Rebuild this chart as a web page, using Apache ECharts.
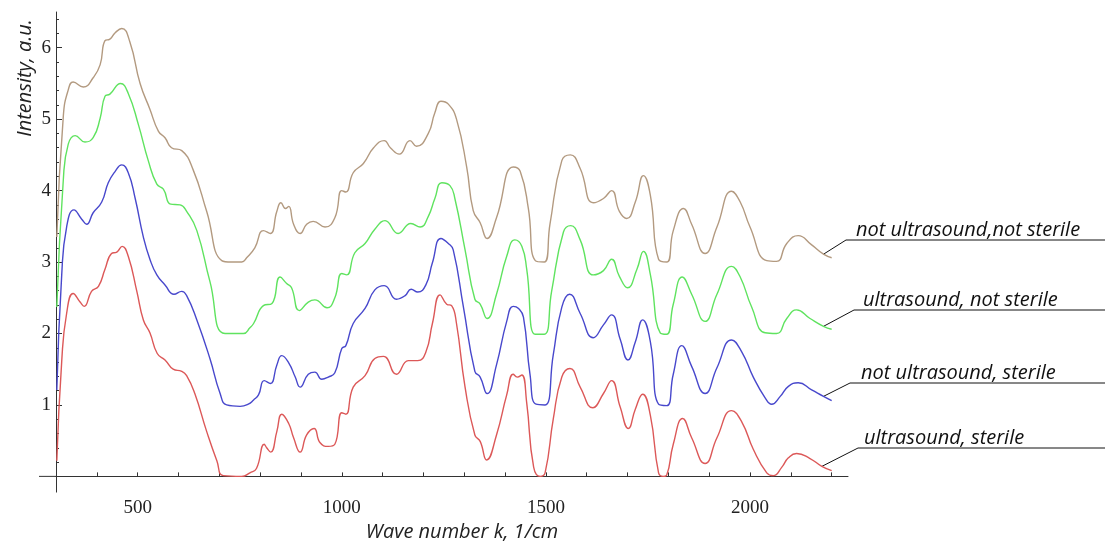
<!DOCTYPE html>
<html>
<head>
<meta charset="utf-8">
<script src="https://cdn.jsdelivr.net/npm/echarts@6/dist/echarts.min.js"></script>
<style>
  html, body { margin: 0; padding: 0; background: #fff; }
  #main { width: 1114px; height: 547px; }
</style>
</head>
<body>
<div id="main"></div>
<script>
// spectra, x = wave number (1/cm), y = intensity (a.u.)
var names = ['not ultrasound,not sterile', 'ultrasound, not sterile', 'not ultrasound, sterile', 'ultrasound, sterile'];
var colors = ['#b39a80', '#5fe35f', '#4848cc', '#dc5858'];

var nusnsX = [302,318,330,342,367,391,408,420,432,445,461,481,506,530,551,567,583,608,636,669,706,730,755,767,787,808,825,841,851,862,870,882,898,914,930,959,983,1000,1010,1028,1053,1078,1104,1119,1141,1167,1183,1212,1228,1243,1261,1281,1306,1322,1339,1356,1379,1420,1437,1457,1474,1496,1510,1539,1560,1584,1616,1641,1661,1680,1698,1719,1739,1756,1776,1796,1812,1837,1857,1890,1919,1955,1976,2000,2041,2065,2090,2118,2151,2180,2200];
var nusnsY = [3.35,5.05,5.41,5.52,5.45,5.58,5.76,6.10,6.12,6.21,6.27,6.08,5.50,5.14,4.83,4.74,4.60,4.56,4.29,3.71,3.02,3.00,3.00,3.06,3.20,3.44,3.40,3.71,3.83,3.75,3.78,3.53,3.40,3.53,3.57,3.49,3.62,4.00,3.98,4.25,4.38,4.60,4.70,4.60,4.51,4.70,4.62,4.80,5.09,5.25,5.21,5.00,4.33,3.72,3.55,3.33,3.62,4.33,4.27,3.75,3.02,3.00,3.53,4.42,4.50,4.31,3.83,3.89,4.00,3.71,3.61,3.84,4.21,3.93,3.04,3.00,3.44,3.75,3.53,3.12,3.49,3.99,3.84,3.49,3.02,3.01,3.26,3.37,3.24,3.11,3.06];

var usnsX = [302,318,330,347,371,391,408,420,432,458,477,502,526,547,563,581,604,620,645,677,714,759,775,784,808,829,849,865,877,896,918,934,964,983,1000,1012,1032,1057,1081,1106,1138,1169,1192,1212,1228,1245,1265,1277,1302,1326,1339,1356,1379,1404,1424,1441,1453,1474,1496,1514,1543,1561,1584,1616,1641,1661,1680,1700,1723,1739,1756,1780,1796,1812,1834,1857,1890,1919,1955,1976,2004,2037,2065,2090,2114,2147,2180,2200];
var usnsY = [2.37,4.16,4.65,4.77,4.68,4.74,5.01,5.32,5.35,5.50,5.36,4.92,4.42,4.09,4.02,3.81,3.80,3.71,3.44,2.73,2.00,2.00,2.08,2.14,2.39,2.42,2.79,2.70,2.64,2.32,2.44,2.47,2.36,2.50,2.84,2.82,3.13,3.26,3.46,3.58,3.40,3.54,3.49,3.64,3.89,4.11,4.07,3.89,3.17,2.48,2.41,2.21,2.55,3.08,3.31,3.22,2.90,1.99,1.99,2.59,3.42,3.51,3.31,2.82,2.88,3.04,2.80,2.64,2.90,3.15,2.82,2.01,1.99,2.41,2.79,2.55,2.17,2.55,2.94,2.79,2.37,2.01,2.00,2.21,2.33,2.21,2.10,2.06];

var nussX = [302,314,326,344,363,375,391,412,428,445,461,477,494,514,530,547,567,589,608,620,645,677,702,718,751,771,784,796,810,825,841,853,870,886,898,918,934,951,967,983,1000,1010,1028,1057,1081,1104,1134,1155,1170,1186,1206,1222,1243,1261,1273,1298,1326,1339,1356,1379,1404,1420,1433,1445,1461,1476,1498,1518,1539,1558,1584,1616,1641,1661,1682,1701,1719,1737,1756,1776,1796,1812,1833,1857,1890,1919,1955,1980,2008,2037,2053,2074,2094,2118,2151,2180,2200];
var nussY = [1.21,2.82,3.49,3.73,3.60,3.53,3.69,3.84,4.11,4.27,4.36,4.25,3.89,3.35,3.04,2.82,2.68,2.55,2.59,2.53,2.19,1.65,1.16,1.00,0.98,1.01,1.07,1.14,1.34,1.30,1.56,1.69,1.59,1.39,1.25,1.43,1.46,1.36,1.39,1.45,1.79,1.83,2.14,2.35,2.61,2.67,2.48,2.53,2.62,2.58,2.68,2.99,3.33,3.26,3.17,2.37,1.47,1.39,1.16,1.56,2.17,2.38,2.35,2.23,1.43,1.01,1.00,1.70,2.37,2.55,2.28,1.94,2.12,2.26,1.92,1.63,1.88,2.19,1.88,1.01,0.99,1.43,1.83,1.54,1.16,1.52,1.91,1.74,1.39,1.10,1.01,1.12,1.26,1.31,1.21,1.12,1.06];

var ussX = [302,314,326,342,359,369,387,404,420,436,449,462,477,498,514,530,548,567,587,608,620,640,669,694,710,755,775,791,810,816,826,841,853,870,882,898,914,932,947,967,983,1000,1010,1028,1057,1081,1102,1134,1163,1186,1206,1222,1241,1257,1269,1281,1302,1326,1339,1355,1379,1404,1420,1430,1441,1453,1470,1486,1498,1518,1539,1559,1584,1615,1641,1661,1682,1702,1719,1737,1756,1776,1787,1796,1812,1835,1857,1890,1919,1955,1980,2008,2041,2057,2078,2094,2114,2147,2176,2200];
var ussY = [0.22,1.61,2.28,2.56,2.44,2.38,2.59,2.66,2.90,3.12,3.14,3.22,3.08,2.59,2.19,2.01,1.72,1.63,1.50,1.47,1.41,1.16,0.63,0.22,0.01,0.00,0.05,0.11,0.45,0.40,0.34,0.63,0.87,0.74,0.54,0.34,0.58,0.67,0.47,0.42,0.45,0.89,0.87,1.25,1.41,1.65,1.68,1.43,1.62,1.62,1.74,2.14,2.54,2.41,2.39,2.14,1.25,0.58,0.49,0.23,0.58,1.14,1.43,1.39,1.42,1.03,0.13,0.00,0.05,0.80,1.39,1.51,1.25,0.96,1.16,1.34,0.97,0.67,0.94,1.15,0.85,0.05,0.00,0.02,0.45,0.81,0.54,0.18,0.54,0.92,0.76,0.38,0.05,0.01,0.13,0.26,0.32,0.25,0.14,0.08];

// ticks
var xTicks = [400,500,600,700,800,900,1000,1100,1200,1300,1400,1500,1600,1700,1800,1900,2000,2100,2200];
var xLabels = [500,1000,1500,2000];
var yLabels = [1,2,3,4,5,6];
var yMinor = [0.2,0.4,0.6,0.8,1.2,1.4,1.6,1.8,2.2,2.4,2.6,2.8,3.2,3.4,3.6,3.8,4.2,4.4,4.6,4.8,5.2,5.4,5.6,5.8,6.2,6.4];

var seriesX = [nusnsX, usnsX, nussX, ussX];
var seriesY = [nusnsY, usnsY, nussY, ussY];

function pairs(xs, ys) {
  return xs.map(function (x, i) { return [x, ys[i]]; });
}

var axisColor = '#333';
var serif = "'Liberation Serif', 'Times New Roman', serif";

var myChart = echarts.init(document.getElementById('main'));

var option = {
  animation: false,
  grid: { left: 56, right: 266, top: 12, bottom: 34 },
  xAxis: {
    type: 'value',
    min: 300,
    max: 2240,
    splitLine: { show: false },
    axisLine: { onZero: true, lineStyle: { color: axisColor, width: 1 } },
    axisTick: { inside: true, length: 4, customValues: xTicks, lineStyle: { color: axisColor } },
    axisLabel: {
      customValues: xLabels,
      margin: 6,
      fontFamily: serif,
      fontSize: 19,
      color: '#222',
      formatter: function (v) { return String(v); }
    },
    name: 'Wave number k, 1/cm',
    nameLocation: 'middle',
    nameGap: 26,
    nameTextStyle: { fontFamily: 'Open Sans', fontStyle: 'italic', fontSize: 20, color: '#222', padding: [0, 0, 0, 20] }
  },
  yAxis: [{
    type: 'value',
    min: -0.22,
    max: 6.5,
    splitLine: { show: false },
    axisLine: { show: true, lineStyle: { color: axisColor, width: 1 } },
    axisTick: { inside: true, length: 6, customValues: yLabels, lineStyle: { color: axisColor } },
    axisLabel: {
      customValues: yLabels,
      margin: 5,
      fontFamily: serif,
      fontSize: 19,
      color: '#222',
      formatter: function (v) { return String(v); }
    }
  }, {
    type: 'value',
    min: -0.22,
    max: 6.5,
    position: 'left',
    offset: 0,
    splitLine: { show: false },
    axisLine: { show: false },
    axisTick: { inside: true, length: 3, customValues: yMinor, lineStyle: { color: axisColor } },
    axisLabel: { show: false }
  }],
  series: seriesX.map(function (xs, i) {
    return {
      name: names[i],
      type: 'line',
      yAxisIndex: 0,
      data: pairs(xs, seriesY[i]),
      showSymbol: false,
      smooth: 0.5,
      lineStyle: { color: colors[i], width: 1.4 },
      itemStyle: { color: colors[i] }
    };
  })
};

myChart.setOption(option);

// leader lines and underlined labels at the right, anchored at each curve's tail
var labelRows = [
  { lineY: 240, lineX: 846, textX: 856 },
  { lineY: 310, lineX: 854, textX: 863 },
  { lineY: 383, lineX: 850, textX: 861 },
  { lineY: 448, lineX: 858, textX: 864 }
];
var elements = [];
labelRows.forEach(function (row, i) {
  var xs = seriesX[i], ys = seriesY[i];
  var k = xs.length - 2;
  var p = myChart.convertToPixel({ seriesIndex: i }, [xs[k], ys[k]]);
  elements.push({
    type: 'polyline',
    shape: { points: [[p[0], p[1]], [row.lineX, row.lineY], [1105, row.lineY]] },
    style: { stroke: '#111', lineWidth: 1, fill: null },
    silent: true
  });
  elements.push({
    type: 'text',
    x: row.textX,
    y: row.lineY - 10,
    style: {
      text: names[i],
      font: 'italic 20px "Open Sans"',
      fill: '#111',
      textAlign: 'left',
      textVerticalAlign: 'middle'
    },
    silent: true
  });
});

// short stub of the x axis left of the y axis
var origin = myChart.convertToPixel({ seriesIndex: 0 }, [300, 0]);
elements.push({
  type: 'line',
  shape: { x1: origin[0] - 17, y1: origin[1], x2: origin[0], y2: origin[1] },
  style: { stroke: axisColor, lineWidth: 1 },
  silent: true
});

// y axis title
elements.push({
  type: 'text',
  x: 25,
  y: 78,
  rotation: Math.PI / 2,
  style: {
    text: 'Intensity, a.u.',
    font: 'italic 20px "Open Sans"',
    fill: '#222',
    textAlign: 'center',
    textVerticalAlign: 'middle'
  },
  silent: true
});

myChart.setOption({ graphic: { elements: elements } });

window.onresize = function () {
  myChart.resize();
};
</script>
</body>
</html>
